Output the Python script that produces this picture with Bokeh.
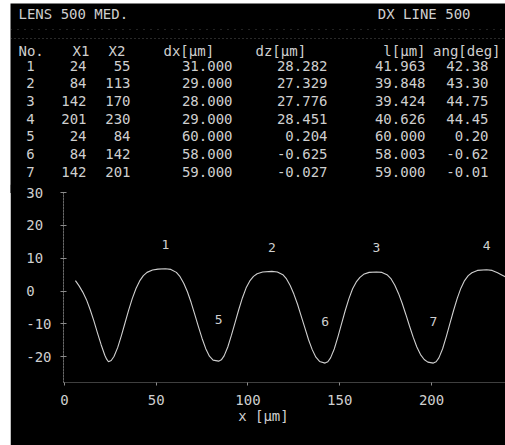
from bokeh.plotting import figure
from bokeh.models import Range1d, FixedTicker, Span
from bokeh.embed import file_html
from bokeh.resources import INLINE
from bokeh.core.properties import value

# ---------------- data ----------------
title_left = "LENS 500 MED."
title_right = "DX LINE 500"
headers = ["No.", "X1", "X2", "dx[μm]", "dz[μm]", "l[μm]", "ang[deg]"]
seg_no = [1, 2, 3, 4, 5, 6, 7]
x1 = [24, 84, 142, 201, 24, 84, 142]
x2 = [55, 113, 170, 230, 84, 142, 201]
dx = [31.0, 29.0, 28.0, 29.0, 60.0, 58.0, 59.0]
dz = [28.282, 27.329, 27.776, 28.451, 0.204, -0.625, -0.027]
ll = [41.963, 39.848, 39.424, 40.626, 60.000, 58.003, 59.000]
ang = [42.38, 43.30, 44.75, 44.45, 0.20, -0.62, -0.01]

# profile (x in um, z in um)
prof_x = [6, 8, 10, 12, 14, 16, 18, 20, 22, 23, 24,
          25.5, 27, 29, 31, 33, 35, 37, 39, 41, 43, 45, 48, 51, 55,
          58, 61, 63, 65, 67, 69, 71, 73, 75, 77, 79, 81, 84,
          85.5, 87, 89, 91, 93, 95, 97, 99, 101, 103, 105, 108, 113,
          116, 119, 121, 123, 125, 127, 129, 131, 133, 135, 137, 139, 142,
          143.5, 145, 147, 149, 151, 153, 155, 157, 159, 161, 163, 166, 170,
          173, 176, 178, 180, 182, 184, 186, 188, 190, 192, 194, 196, 198, 201,
          202.5, 204, 206, 208, 210, 212, 214, 216, 218, 220, 222, 225, 230,
          233, 236, 238, 240.3]
prof_z = [3.2, 1.6, -0.3, -2.6, -5.6, -9.0, -12.7, -16.3, -19.5, -20.7, -21.5,
          -21.1, -19.9, -17.2, -13.6, -9.7, -5.8, -2.2, 0.8, 3.1, 4.7, 5.7, 6.4, 6.7, 6.8,
          6.6, 5.7, 4.4, 2.4, -0.2, -3.4, -7.1, -10.8, -14.4, -17.5, -19.8, -21.0, -21.3,
          -20.9, -19.7, -17.0, -13.4, -9.5, -5.6, -2.0, 1.0, 3.1, 4.5, 5.3, 5.8, 6.0,
          5.8, 5.0, 3.7, 1.7, -0.9, -4.0, -7.6, -11.2, -14.8, -17.8, -20.1, -21.4, -21.9,
          -21.5, -20.3, -17.6, -13.9, -9.9, -5.9, -2.3, 0.7, 2.8, 4.2, 5.1, 5.7, 5.8,
          5.7, 4.9, 3.7, 1.8, -0.7, -3.7, -7.1, -10.6, -14.0, -17.0, -19.3, -20.8, -21.6, -21.9,
          -21.5, -20.3, -17.6, -13.9, -9.9, -5.9, -2.2, 0.9, 3.2, 4.7, 5.6, 6.3, 6.5,
          6.3, 5.6, 5.0, 4.3]

y_ticks = [-20, -10, 0, 10, 20, 30]
x_ticks = [0, 50, 100, 150, 200]
x_label = "x [μm]"

# ---------------- style / layout ----------------
FONT = "DejaVu Sans Mono"
TXT = "#cfcfcf"
DIM = "#8c8c8c"
FS = "14px"
LEFT, TOP_OFF = 10, 3            # white strip of the scanned screen
W = 505 - LEFT
TOP_H = 193 - TOP_OFF            # top panel reaches page y=193
OVERLAP = 9                      # bottom panel starts at page y=184

# ---------------- top panel (table) in page-pixel coordinates ----------------
top = figure(width=W, height=TOP_H, x_range=Range1d(LEFT, 505), y_range=Range1d(TOP_OFF + TOP_H, TOP_OFF),
             output_backend="svg", toolbar_location=None, min_border=0,
             min_border_left=0, min_border_right=0, min_border_top=0, min_border_bottom=0,
             x_axis_type=None, y_axis_type=None,
             background_fill_color="black", border_fill_color="black")
top.outline_line_color = None
top.styles = {"margin-left": "%dpx" % LEFT, "margin-top": "%dpx" % TOP_OFF}

def ttext(xs, ys, texts, align):
    top.text(x=xs, y=ys, text=texts, text_font=value(FONT), text_font_size=FS,
             text_color=TXT, text_align=align, text_baseline="middle")

ttext([18], [13], [title_left], "left")
ttext([470], [13], [title_right], "right")

top.add_layout(Span(location=29, dimension="width", line_color=DIM, line_dash="1 6", line_alpha=0.5))
top.add_layout(Span(location=38, dimension="width", line_color=DIM, line_dash="1 3", line_alpha=0.6))

hx = [18, 72, 108, 163, 255, 425, 500]
halign = ["left", "left", "left", "left", "left", "right", "right"]
for h, xx, al in zip(headers, hx, halign):
    ttext([xx], [50], [h], al)

row0, dy = 65, 17.67
ys = [row0 + i * dy for i in range(len(seg_no))]
cols = [
    ([str(v) for v in seg_no], 30, "center"),
    ([str(v) for v in x1], 86, "right"),
    ([str(v) for v in x2], 130, "right"),
    (["%.3f" % v for v in dx], 232, "right"),
    (["%.3f" % v for v in dz], 327, "right"),
    (["%.3f" % v for v in ll], 425, "right"),
    (["%.2f" % v for v in ang], 488, "right"),
]
for texts, xx, al in cols:
    ttext([xx] * len(texts), ys, texts, al)

# ---------------- bottom panel (profile) ----------------
p = figure(width=W, height=445 - 184, x_range=Range1d(-0.5, 240.3), y_range=Range1d(-27.8, 30),
           output_backend="svg", toolbar_location=None,
           min_border_left=63 - LEFT, min_border_right=0, min_border_top=8, min_border_bottom=63,
           background_fill_color="black", border_fill_color="black")
p.outline_line_color = None
p.xgrid.visible = False
p.ygrid.visible = False
p.styles = {"margin-left": "%dpx" % LEFT, "margin-top": "-%dpx" % OVERLAP}

p.line(prof_x, prof_z, line_color="#d0d0d0", line_width=1.1)

def z_at(xq):
    for i in range(len(prof_x) - 1):
        if prof_x[i] <= xq <= prof_x[i + 1]:
            t = (xq - prof_x[i]) / (prof_x[i + 1] - prof_x[i])
            return prof_z[i] + t * (prof_z[i + 1] - prof_z[i])
    return prof_z[-1]

lab_y = [z_at(xx) + (7.4 if abs(d) > 1 else 12.8) for xx, d in zip(x2, dz)]
p.text(x=x2, y=lab_y, text=[str(n) for n in seg_no], text_font=value(FONT),
       text_font_size="13px", text_color=TXT, text_align="center", text_baseline="middle")

ya = p.yaxis[0]
ya.ticker = FixedTicker(ticks=y_ticks)
ya.major_label_overrides = {t: (str(t) + "\u00a0" * (3 - len(str(t)))) for t in y_ticks}
ya.major_label_text_font = FONT
ya.major_label_text_font_size = FS
ya.major_label_text_color = TXT
ya.major_label_standoff = 9
ya.axis_line_color = DIM
ya.axis_line_dash = "1 2"
ya.major_tick_line_color = DIM
ya.major_tick_in = 3
ya.major_tick_out = 3
ya.minor_tick_line_color = None

xa = p.xaxis[0]
xa.ticker = FixedTicker(ticks=x_ticks)
xa.major_label_text_font = FONT
xa.major_label_text_font_size = FS
xa.major_label_text_color = TXT
xa.major_label_standoff = 9
xa.axis_line_color = None
xa.major_tick_line_color = DIM
xa.major_tick_in = 0
xa.major_tick_out = 3
xa.minor_tick_line_color = None
xa.axis_label = x_label + "\u00a0" * 5
xa.axis_label_text_font = FONT
xa.axis_label_text_font_size = FS
xa.axis_label_text_font_style = "normal"
xa.axis_label_text_color = TXT
xa.axis_label_standoff = 0

open("out.html", "w").write(file_html((top, p), INLINE))
